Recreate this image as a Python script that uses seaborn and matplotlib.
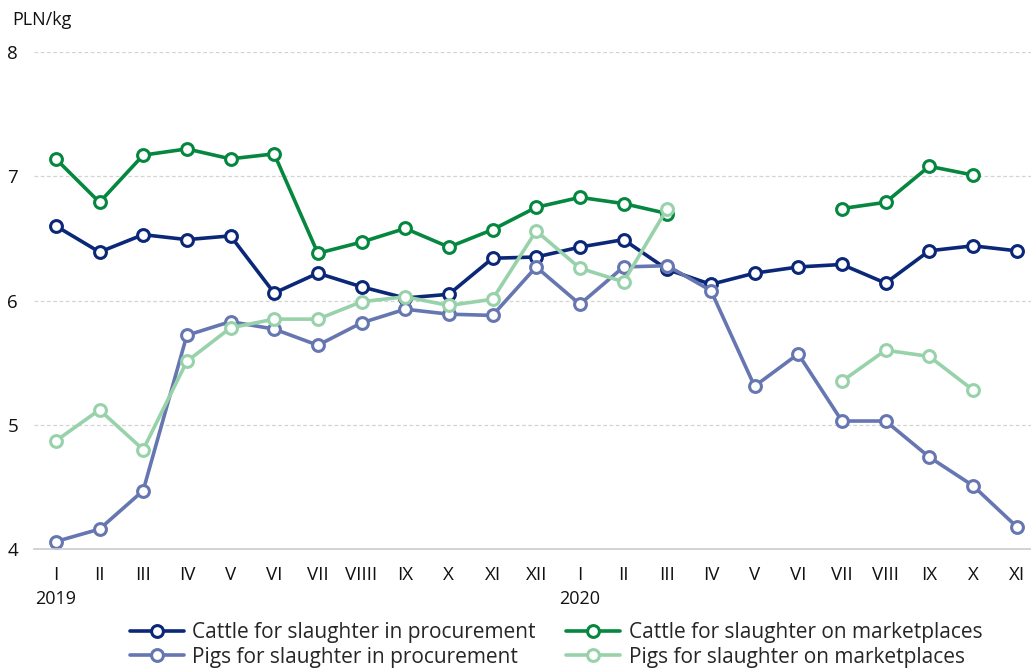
import numpy as np
import pandas as pd
import matplotlib
matplotlib.use("Agg")
import matplotlib.pyplot as plt
from matplotlib.lines import Line2D
import seaborn as sns

months = ["I", "II", "III", "IV", "V", "VI", "VII", "VIIII", "IX", "X", "XI", "XII",
          "I", "II", "III", "IV", "V", "VI", "VII", "VIII", "IX", "X", "XI"]
years = {0: "2019", 12: "2020"}

nan = np.nan
cattle_proc = [6.60, 6.39, 6.53, 6.49, 6.52, 6.06, 6.22, 6.11, 6.02, 6.05, 6.34, 6.35,
               6.43, 6.49, 6.25, 6.13, 6.22, 6.27, 6.29, 6.14, 6.40, 6.44, 6.40]
cattle_market = [7.14, 6.79, 7.17, 7.22, 7.14, 7.18, 6.38, 6.47, 6.58, 6.43, 6.57, 6.75,
                 6.83, 6.78, 6.70, nan, nan, nan, 6.74, 6.79, 7.08, 7.01, nan]
pigs_proc = [4.06, 4.16, 4.47, 5.72, 5.83, 5.77, 5.64, 5.82, 5.93, 5.89, 5.88, 6.27,
             5.97, 6.27, 6.28, 6.08, 5.31, 5.57, 5.03, 5.03, 4.74, 4.51, 4.18]
pigs_market = [4.87, 5.12, 4.80, 5.51, 5.78, 5.85, 5.85, 5.99, 6.03, 5.96, 6.01, 6.56,
               6.26, 6.15, 6.74, nan, nan, nan, 5.35, 5.60, 5.55, 5.28, nan]

series = [
    ("Cattle for slaughter in procurement", cattle_proc, "#0b2878"),
    ("Cattle for slaughter on marketplaces", cattle_market, "#05873f"),
    ("Pigs for slaughter in procurement", pigs_proc, "#6676b0"),
    ("Pigs for slaughter on marketplaces", pigs_market, "#98d2ab"),
]

sns.set_theme(style="white")
plt.rcParams["font.family"] = ["Open Sans", "DejaVu Sans"]

fig = plt.figure(figsize=(10.31, 6.69), dpi=100)
ax = fig.add_axes([34 / 1031, 1 - 549 / 669, 1 - 34 / 1031, (549 - 52) / 669])

x = np.arange(len(months))
handles = []
for name, vals, col in series:
    v = np.array(vals, dtype=float)
    seg = np.cumsum(np.isnan(v))
    df = pd.DataFrame({"x": x, "y": v, "seg": seg}).dropna()
    sns.lineplot(data=df, x="x", y="y", units="seg", estimator=None, color=col,
                 linewidth=2.6, marker="o", markersize=8.5, markerfacecolor="white",
                 markeredgecolor=col, markeredgewidth=2.2, ax=ax, legend=False)
    handles.append(Line2D([0], [0], color=col, linewidth=2.6, marker="o", markersize=8.5,
                          markerfacecolor="white", markeredgecolor=col,
                          markeredgewidth=2.2, label=name))

ax.set_xlim(-0.5, 22.33)
ax.set_ylim(4, 8)
ax.set_yticks([4, 5, 6, 7, 8])
ax.set_yticklabels(["4", "5", "6", "7", "8"])
ax.set_xticks(x)
ax.set_xticklabels(months)
ax.tick_params(axis="both", length=0, labelsize=13.5, colors="#111111")
ax.tick_params(axis="x", pad=12)
ax.tick_params(axis="y", pad=11.5)
ax.set_xlabel("")
ax.set_ylabel("")
for yv in [5, 6, 7, 8]:
    ax.axhline(yv, color="#d4d4d4", linewidth=0.9, linestyle=(0, (3, 2)), zorder=0)
for s in ["top", "right", "left"]:
    ax.spines[s].set_visible(False)
ax.spines["bottom"].set_color("#cccccc")
ax.spines["bottom"].set_linewidth(1.2)
ax.grid(False)

for i, yr in years.items():
    ax.text(i, -0.1, yr, transform=ax.get_xaxis_transform(), ha="center", va="center",
            fontsize=13, color="#111111")

fig.text(12 / 1031, 1 - 20 / 669, "PLN/kg", ha="left", va="center", fontsize=13,
         color="#111111")

order = [handles[0], handles[2], handles[1], handles[3]]
fig.legend(handles=order, loc="center", bbox_to_anchor=(556 / 1031, 1 - 645 / 669),
           ncol=2, frameon=False, fontsize=15, handlelength=2.6, handletextpad=0.4,
           columnspacing=1.45, labelspacing=0.15, borderpad=0)

fig.savefig("out.png", dpi=100)
